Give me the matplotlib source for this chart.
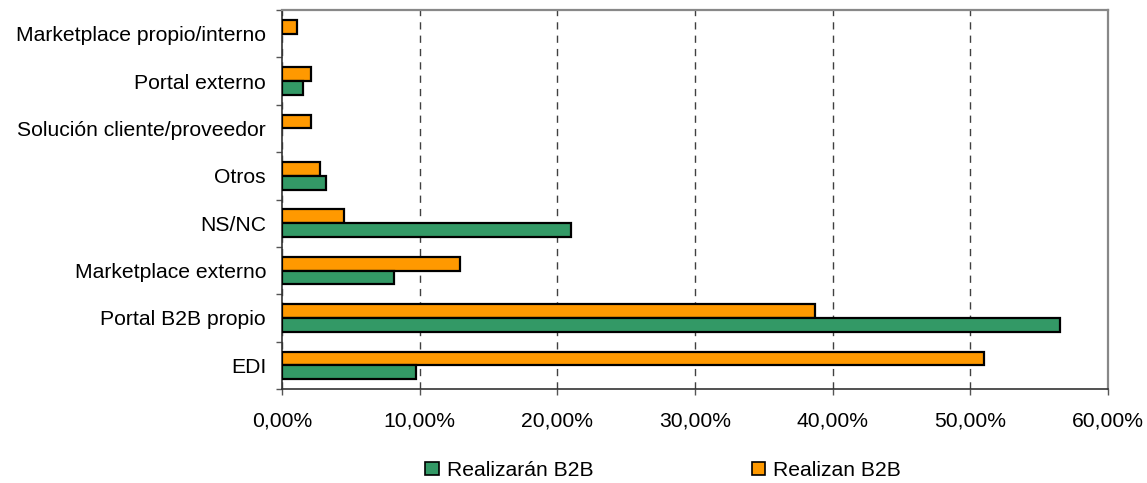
import numpy as np
import matplotlib.pyplot as plt
from matplotlib.ticker import FuncFormatter
from matplotlib.patches import Patch

plt.rcParams['font.family'] = ['Liberation Sans', 'DejaVu Sans']

# Categorías (de abajo hacia arriba)
categorias = ['EDI', 'Portal B2B propio', 'Marketplace externo', 'NS/NC', 'Otros',
              'Solución cliente/proveedor', 'Portal externo', 'Marketplace propio/interno']
realizaran = [9.7, 56.5, 8.1, 21.0, 3.17, 0.0, 1.55, 0.0]
realizan = [50.96, 38.75, 12.9, 4.48, 2.74, 2.13, 2.13, 1.11]

verde = '#339966'
naranja = '#FF9900'
fs = 15.2

fig = plt.figure(figsize=(11.47, 4.83), dpi=100)
ax = fig.add_axes([0.2459, 0.1946, 0.7201, 0.7847])

y = np.arange(len(categorias))
alto = 0.29
ax.barh(y + alto / 2, realizan, height=alto, color=naranja, edgecolor='black', linewidth=1.6, zorder=3)
barras_v = ax.barh(y - alto / 2, realizaran, height=alto, color=verde, edgecolor='black', linewidth=1.6, zorder=3)
# las barras con valor 0 no se dibujan
for b, v in zip(barras_v, realizaran):
    if v == 0:
        b.set_visible(False)

ax.set_xlim(0, 60)
ax.set_ylim(-0.5, len(categorias) - 0.5)
ax.set_xticks(np.arange(0, 61, 10))
ax.xaxis.set_major_formatter(FuncFormatter(lambda v, p: f'{v:.2f}%'.replace('.', ',')))
ax.set_yticks(y)
ax.set_yticklabels(categorias)
ax.set_yticks(np.arange(-0.5, len(categorias), 1), minor=True)
ax.tick_params(axis='y', which='major', length=0, pad=11.5, labelsize=fs)
ax.tick_params(axis='y', which='minor', length=4.5, width=1, color='#555555')
ax.tick_params(axis='x', length=4.5, width=1, color='#555555', labelsize=fs, pad=12)

ax.grid(axis='x', linestyle=(0, (5.2, 4.4)), color='#404040', linewidth=1, zorder=0)
ax.set_axisbelow(True)

for lado in ['top', 'right']:
    ax.spines[lado].set_color('#888888')
    ax.spines[lado].set_linewidth(1.6)
for lado in ['left', 'bottom']:
    ax.spines[lado].set_color('#333333')
    ax.spines[lado].set_linewidth(1.2)

handles = [Patch(facecolor=verde, edgecolor='black', linewidth=1.2, label='Realizarán B2B'),
           Patch(facecolor=naranja, edgecolor='black', linewidth=1.2, label='Realizan B2B')]
fig.legend(handles=handles, loc='center', bbox_to_anchor=(0.578, 0.026), ncol=2, frameon=False,
           fontsize=fs, handlelength=0.62, handleheight=0.62, handletextpad=0.38, columnspacing=7.5)

fig.savefig('out.png', dpi=100)
